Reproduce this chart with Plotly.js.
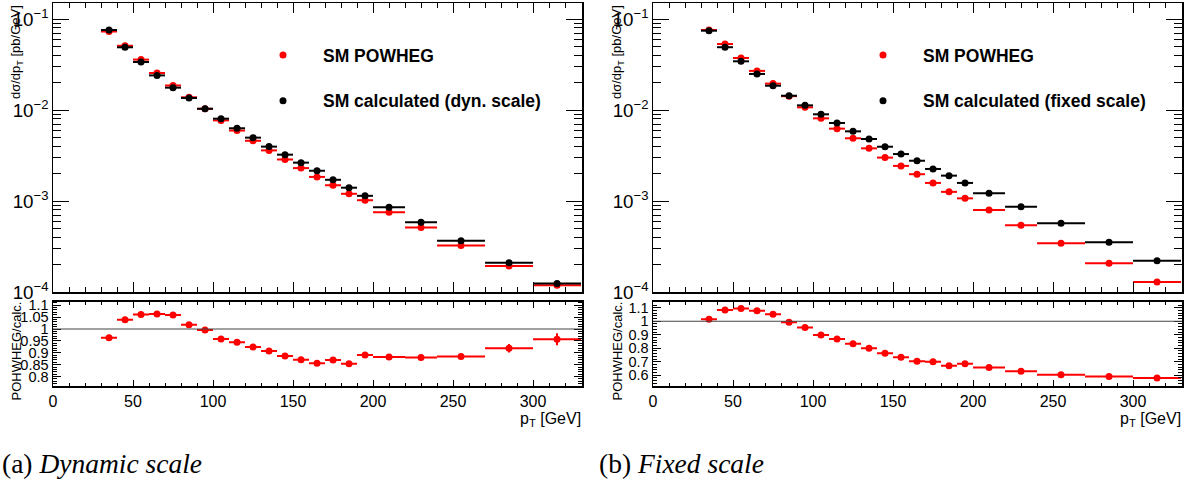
<!DOCTYPE html>
<html>
<head>
<meta charset="utf-8">
<script src="https://cdn.plot.ly/plotly-3.0.1.min.js"></script>
<style>html,body{margin:0;padding:0;background:#fff;}#plot{width:1197px;height:486px;}</style>
</head>
<body>
<div id="plot"></div>
<script>
// ---- data ----
const binCenters = [35,45,55,65,75,85,95,105,115,125,135,145,155,165,175,185,195,210,230,255,285,315];
const binHalfWidths = [5,5,5,5,5,5,5,5,5,5,5,5,5,5,5,5,5,10,10,15,15,15];

const dynPowheg = [0.0729,0.0508,0.0358,0.0255,0.0186,0.0138,0.0103,0.00769,0.00595,0.00459,0.0036,0.00286,0.0023,0.00184,0.00149,0.0012,0.00102,0.000752,0.000513,0.000324,0.000193,0.000119];
const dynCalc   = [0.0757,0.0489,0.0337,0.0240,0.0176,0.01355,0.01033,0.00803,0.0063,0.00497,0.00396,0.00323,0.00264,0.00215,0.00171,0.0014,0.00114,0.000853,0.000583,0.000366,0.00021,0.000124];
const dynRatio  = [0.963,1.039,1.061,1.063,1.059,1.018,0.996,0.958,0.944,0.924,0.908,0.887,0.871,0.856,0.870,0.854,0.891,0.882,0.880,0.884,0.919,0.957];
const dynRatioErr = [0.004,0.004,0.004,0.004,0.004,0.004,0.004,0.004,0.004,0.004,0.004,0.004,0.004,0.004,0.005,0.005,0.005,0.006,0.006,0.01,0.018,0.025];

const fixPowheg = [0.0757,0.0531,0.0373,0.0269,0.0195,0.0142,0.0107,0.0081,0.00624,0.00489,0.00379,0.003,0.00243,0.00197,0.00158,0.00126,0.00107,0.000796,0.00054,0.000343,0.000207,0.000129];
const fixCalc   = [0.0744,0.049,0.0343,0.0249,0.0185,0.01436,0.01125,0.00897,0.0072,0.00583,0.0048,0.00395,0.00328,0.00277,0.00225,0.0019,0.00158,0.00122,0.000867,0.000569,0.000352,0.000221];
const fixRatio  = [1.015,1.083,1.095,1.078,1.052,0.993,0.953,0.898,0.868,0.833,0.800,0.763,0.733,0.703,0.700,0.670,0.685,0.658,0.630,0.603,0.590,0.580];
const fixRatioErr = [0.004,0.004,0.004,0.004,0.004,0.004,0.004,0.004,0.004,0.004,0.004,0.004,0.004,0.004,0.005,0.005,0.005,0.006,0.006,0.01,0.015,0.02];

const ratioRef = 1;
const legendNames = {powheg: 'SM POWHEG', dyn: 'SM calculated (dyn. scale)', fix: 'SM calculated (fixed scale)'};
const captions = {a: '(a) <i>Dynamic scale</i>', b: '(b) <i>Fixed scale</i>'};

// ---- layout helpers ----
const W = 1197, H = 486;
const px = v => v / W;
const py = v => (H - v) / H;
const RED = '#ff0000', BLACK = '#000000';
const SANS = 'Liberation Sans, Arial, sans-serif';

function mainTrace(y, color, name, xa, ya, leg, grp) {
  return {
    type: 'scatter', mode: 'markers', x: binCenters, y: y, name: '<b>' + name + '</b>',
    xaxis: xa, yaxis: ya, legend: leg, legendgroup: grp,
    marker: {color: color, size: 7},
    error_x: {type: 'data', array: binHalfWidths, visible: true, color: color, thickness: 2, width: 0},
    cliponaxis: false
  };
}
function ratioTrace(y, err, xa, ya) {
  return {
    type: 'scatter', mode: 'markers', x: binCenters, y: y, showlegend: false,
    xaxis: xa, yaxis: ya,
    marker: {color: RED, size: 7},
    error_x: {type: 'data', array: binHalfWidths, visible: true, color: RED, thickness: 2, width: 0},
    error_y: {type: 'data', array: err, visible: true, color: RED, thickness: 2, width: 0}
  };
}

const traces = [
  mainTrace(dynPowheg, RED, legendNames.powheg, 'x', 'y', 'legend', 'a1'),
  mainTrace(dynCalc, BLACK, legendNames.dyn, 'x', 'y', 'legend', 'a2'),
  ratioTrace(dynRatio, dynRatioErr, 'x2', 'y2'),
  mainTrace(fixPowheg, RED, legendNames.powheg, 'x3', 'y3', 'legend2', 'b1'),
  mainTrace(fixCalc, BLACK, legendNames.fix, 'x3', 'y3', 'legend2', 'b2'),
  ratioTrace(fixRatio, fixRatioErr, 'x4', 'y4')
];

const frame = {showline: true, linecolor: BLACK, linewidth: 1.5, mirror: 'allticks', ticks: 'inside',
               tickcolor: BLACK, showgrid: false, zeroline: false, fixedrange: true};

const xRange = [0, 330.6];
function xTop(domain, anchor) {
  return Object.assign({}, frame, {domain: domain, anchor: anchor, range: xRange, dtick: 50, tick0: 0,
    ticklen: 10, tickwidth: 1, showticklabels: false,
    minor: {dtick: 10, ticks: 'inside', ticklen: 5, tickcolor: BLACK, showgrid: false}});
}
function xBot(domain, anchor) {
  return Object.assign({}, frame, {domain: domain, anchor: anchor, range: xRange, dtick: 50, tick0: 0,
    ticklen: 6, tickwidth: 1, showticklabels: true, tickfont: {family: SANS, size: 16, color: BLACK},
    minor: {dtick: 10, ticks: 'inside', ticklen: 3, tickcolor: BLACK, showgrid: false}});
}
function yTop(domain, anchor) {
  return Object.assign({}, frame, {domain: domain, anchor: anchor, type: 'log', range: [-4, -0.824],
    dtick: 1, exponentformat: 'power', ticklen: 16, tickwidth: 1,
    tickfont: {family: SANS, size: 15, color: BLACK},
    minor: {dtick: 'D1', ticks: 'inside', ticklen: 8, tickcolor: BLACK, showgrid: false}});
}
function yBot(domain, anchor, range, dt, mdt) {
  return Object.assign({}, frame, {domain: domain, anchor: anchor, range: range,
    dtick: dt, tick0: 0, ticklen: 8, tickwidth: 1,
    tickfont: {family: SANS, size: 14.5, color: BLACK},
    minor: {dtick: mdt, ticks: 'inside', ticklen: 4, tickcolor: BLACK, showgrid: false}});
}

const dL = [px(53), px(582)], dR = [px(653), px(1182)];
const dTop = [py(292), py(3)], dBot = [py(386), py(301.7)];

const layout = {
  width: W, height: H, margin: {l: 0, r: 0, t: 0, b: 0},
  paper_bgcolor: '#fff', plot_bgcolor: '#fff', showlegend: true,
  xaxis: xTop(dL, 'y'), yaxis: yTop(dTop, 'x'),
  xaxis2: xBot(dL, 'y2'), yaxis2: yBot(dBot, 'x2', [0.7605, 1.1147], 0.05, 0.01),
  xaxis3: xTop(dR, 'y3'), yaxis3: yTop(dTop, 'x3'),
  xaxis4: xBot(dR, 'y4'), yaxis4: yBot(dBot, 'x4', [0.52, 1.145], 0.1, 0.02),
  legend: {x: px(243), y: py(37), xanchor: 'left', yanchor: 'top', bgcolor: 'rgba(0,0,0,0)',
           itemwidth: 70, traceorder: 'grouped', tracegroupgap: 20,
           font: {family: SANS, size: 17.5, color: BLACK}},
  legend2: {x: px(843), y: py(37), xanchor: 'left', yanchor: 'top', bgcolor: 'rgba(0,0,0,0)',
           itemwidth: 70, traceorder: 'grouped', tracegroupgap: 20,
           font: {family: SANS, size: 17.5, color: BLACK}},
  shapes: [
    {type: 'line', xref: 'x2 domain', yref: 'y2', x0: 0, x1: 1, y0: ratioRef, y1: ratioRef, line: {color: '#444', width: 1.2}},
    {type: 'line', xref: 'x4 domain', yref: 'y4', x0: 0, x1: 1, y0: ratioRef, y1: ratioRef, line: {color: '#444', width: 1.2}}
  ],
  annotations: [
    {text: 'dσ/dp<sub>T</sub> [pb/GeV]', textangle: -90, xref: 'paper', yref: 'paper', x: px(16), y: py(3),
     xanchor: 'center', yanchor: 'top', showarrow: false, font: {family: SANS, size: 13, color: BLACK}},
    {text: 'POHWHEG/calc.', textangle: -90, xref: 'paper', yref: 'paper', x: px(16), y: py(300),
     xanchor: 'center', yanchor: 'top', showarrow: false, font: {family: SANS, size: 13, color: BLACK}},
    {text: 'dσ/dp<sub>T</sub> [pb/GeV]', textangle: -90, xref: 'paper', yref: 'paper', x: px(617), y: py(3),
     xanchor: 'center', yanchor: 'top', showarrow: false, font: {family: SANS, size: 13, color: BLACK}},
    {text: 'POHWHEG/calc.', textangle: -90, xref: 'paper', yref: 'paper', x: px(617), y: py(300),
     xanchor: 'center', yanchor: 'top', showarrow: false, font: {family: SANS, size: 13, color: BLACK}},
    {text: 'p<sub>T</sub> [GeV]', xref: 'paper', yref: 'paper', x: px(583), y: py(419),
     xanchor: 'right', yanchor: 'middle', showarrow: false, font: {family: SANS, size: 16, color: BLACK}},
    {text: 'p<sub>T</sub> [GeV]', xref: 'paper', yref: 'paper', x: px(1183), y: py(419),
     xanchor: 'right', yanchor: 'middle', showarrow: false, font: {family: SANS, size: 16, color: BLACK}},
    {text: captions.a, xref: 'paper', yref: 'paper', x: 0, y: py(463), xanchor: 'left', yanchor: 'middle',
     showarrow: false, font: {family: 'Liberation Serif, serif', size: 27.5, color: BLACK}},
    {text: captions.b, xref: 'paper', yref: 'paper', x: px(597), y: py(463), xanchor: 'left', yanchor: 'middle',
     showarrow: false, font: {family: 'Liberation Serif, serif', size: 27.5, color: BLACK}}
  ]
};

Plotly.newPlot('plot', traces, layout, {displayModeBar: false, staticPlot: true});
</script>
</body>
</html>
